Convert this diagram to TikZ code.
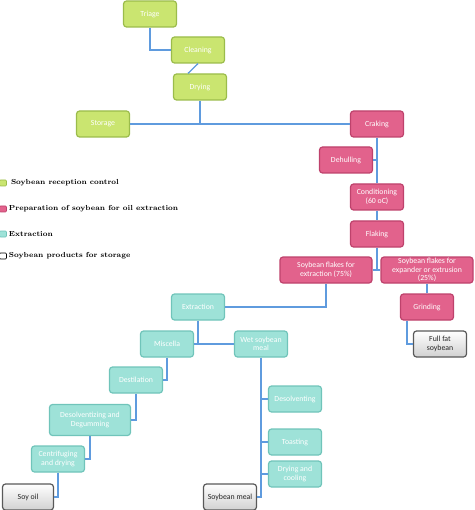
\documentclass[tikz,border=0pt]{standalone}
\usepackage{fontspec}
\newfontfamily\boxfont{Carlito}
\usetikzlibrary{positioning}
\definecolor{grnfill}{RGB}{202,229,112}
\definecolor{grnline}{RGB}{155,188,75}
\definecolor{pnkfill}{RGB}{226,98,140}
\definecolor{pnkline}{RGB}{190,66,108}
\definecolor{tealfill}{RGB}{158,226,216}
\definecolor{tealline}{RGB}{112,196,186}
\definecolor{linkblue}{RGB}{95,155,222}
\tikzset{
  stp/.style={rectangle, rounded corners=3pt, line width=1.2pt, minimum width=53pt,
              minimum height=26pt, inner sep=1pt, align=center, text=white,
              font=\boxfont\fontsize{7.8}{8.6}\selectfont},
  rec/.style={stp, fill=grnfill, draw=grnline},
  prep/.style={stp, fill=pnkfill, draw=pnkline},
  ext/.style={stp, fill=tealfill, draw=tealline},
  prod/.style={stp, top color=white, bottom color=black!18, draw=black!65, text=black!85},
  ln/.style={draw=linkblue, line width=1.3pt},
  key/.style={rectangle, rounded corners=1pt, minimum width=7pt, minimum height=6pt,
              inner sep=0pt, line width=0.6pt},
  keytxt/.style={font=\bfseries\fontsize{7.3}{9}\selectfont, inner sep=0pt},
}
\begin{document}
\begin{tikzpicture}[x=1pt, y=-1pt]
\useasboundingbox (0,0) rectangle (474,510);
% reception
\node[rec] (triage) at (150,14) {Triage};
\node[rec] (clean) at (198,50) {Cleaning};
\node[rec] (dry) at (200,87) {Drying};
\node[rec] (store) at (103,124) {Storage};
% preparation
\node[prep] (crak) at (377,124) {Craking};
\node[prep] (dehull) at (346,160) {Dehulling};
\node[prep] (cond) at (377,197) {Conditioning\\(60 oC)};
\node[prep] (flak) at (377,234) {Flaking};
\node[prep, minimum width=92pt] (fl75) at (326,270) {Soybean flakes for\\extraction (75\%)};
\node[prep, minimum width=92pt] (fl25) at (427,270) {Soybean flakes for\\expander or extrusion\\(25\%)};
\node[prep] (grind) at (427,307) {Grinding};
% extraction
\node[ext] (extr) at (198,307) {Extraction};
\node[ext] (misc) at (167,344) {Miscella};
\node[ext] (wet) at (261,344) {Wet soybean\\meal};
\node[ext] (dest) at (136,380) {Destilation};
\node[ext, minimum width=81pt, minimum height=31pt] (desdeg) at (90,420) {Desolventizing and\\Degumming};
\node[ext] (centr) at (58,459) {Centrifuging\\and drying};
\node[ext] (desolv) at (295,399) {Desolventing};
\node[ext] (toast) at (295,442) {Toasting};
\node[ext] (drycool) at (295,474) {Drying and\\cooling};
% products
\node[prod] (fullfat) at (440,344) {Full fat\\soybean};
\node[prod, minimum width=51pt] (soyoil) at (28,497) {Soy oil};
\node[prod] (meal) at (230,497) {Soybean meal};
% legend
\node[key, fill=grnfill, draw=grnline] (k1) at (3,183) {};
\node[keytxt, right=4pt of k1] {Soybean reception control};
\node[key, fill=pnkfill, draw=pnkline] (k2) at (3,209) {};
\node[keytxt, right=2pt of k2] {Preparation of soybean for oil extraction};
\node[key, fill=tealfill, draw=tealline] (k3) at (3,234) {};
\node[keytxt, right=2pt of k3] {Extraction};
\node[key, fill=white, draw=black] (k4) at (3,256) {};
\node[keytxt, right=2pt of k4] {Soybean products for storage};
% links
\draw[ln] (triage) |- (clean);
\draw[ln] (clean.south) -- ([xshift=-12pt]dry.north);
\draw[ln] (store) -- (crak);
\draw[ln] (dry) -- (dry |- store);
\draw[ln] (crak) -- (cond);
\draw[ln] (dehull) -- (dehull -| crak);
\draw[ln] (cond) -- (flak);
\draw[ln] (flak) |- (fl75);
\draw[ln] (flak) |- (fl25);
\draw[ln] (fl75) |- (extr);
\draw[ln] (fl25) -- (grind);
\draw[ln] ([xshift=7pt]grind.south west) |- (fullfat);
\draw[ln] (extr) -- (extr |- misc);
\draw[ln] (misc) -- (wet);
\draw[ln] (misc) |- (dest);
\draw[ln] (dest) |- (desdeg);
\draw[ln] (desdeg) |- (centr);
\draw[ln] (centr) |- (soyoil);
\draw[ln] (wet) |- (meal);
\draw[ln] (desolv) -- (desolv -| wet);
\draw[ln] (toast) -- (toast -| wet);
\draw[ln] (drycool) -- (drycool -| wet);
\end{tikzpicture}
\end{document}
